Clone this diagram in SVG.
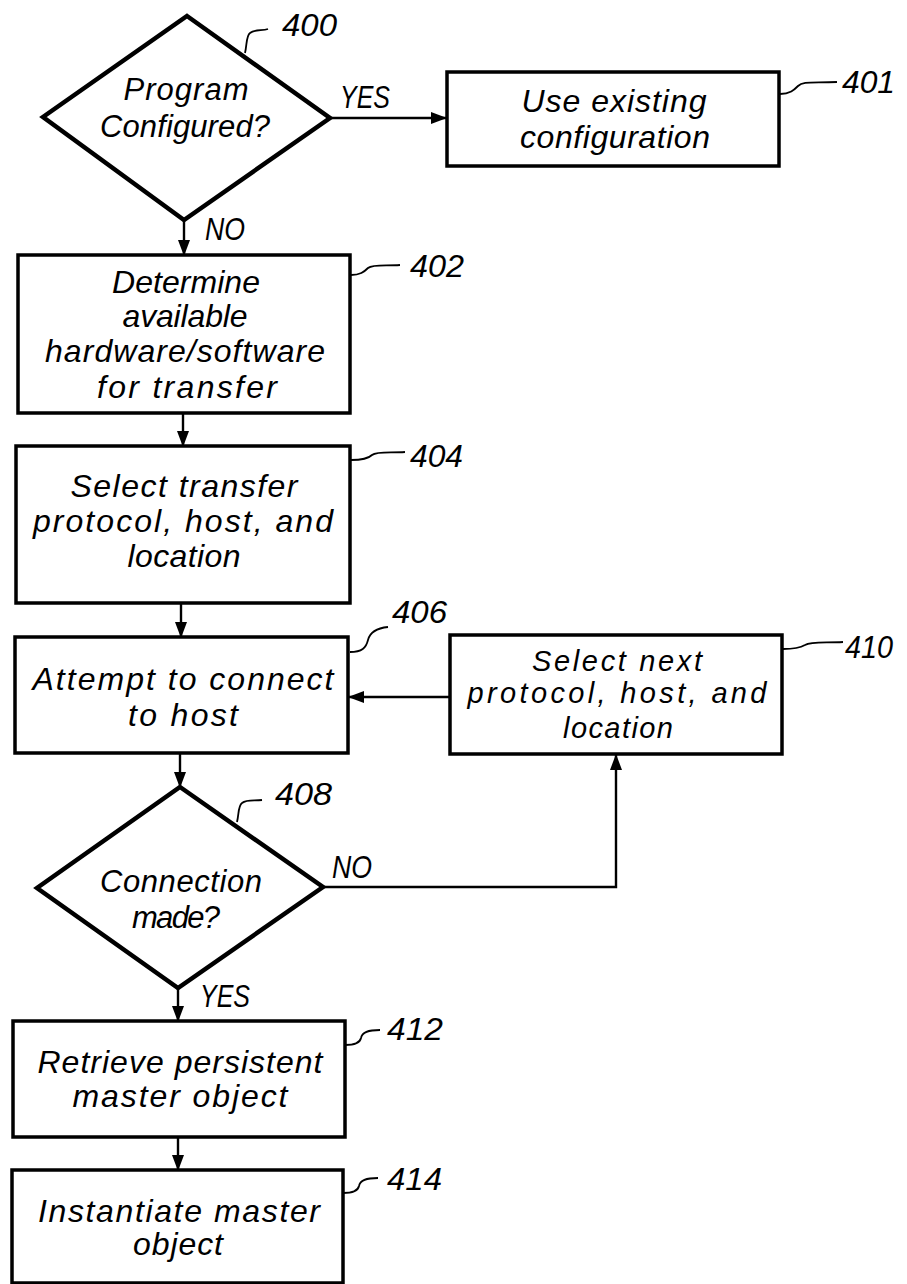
<svg xmlns="http://www.w3.org/2000/svg" width="907" height="1284" viewBox="0 0 907 1284">
<defs>
<style>
.box{fill:#fff;stroke:#000;stroke-width:3.5}
.dia{fill:#fff;stroke:#000;stroke-width:4.5;stroke-linejoin:miter}
.t{font-family:"Liberation Sans",Arial,sans-serif;font-style:italic;font-size:32px;fill:#000;text-anchor:middle}
.td{font-size:31px}
.ts{font-size:29px}
.lbl{font-family:"Liberation Sans",Arial,sans-serif;font-style:italic;font-size:32px;fill:#000}
.yn{font-size:31px}
.lead{fill:none;stroke:#000;stroke-width:1.8}
.con{fill:none;stroke:#000;stroke-width:2.4}
</style>
<marker id="ah" markerWidth="16" markerHeight="14" refX="15" refY="7" orient="auto" markerUnits="userSpaceOnUse">
<path d="M0,1 L16,7 L0,13 Z" fill="#000"/>
</marker>
</defs>
<rect width="907" height="1284" fill="#fff"/>

<g id="connectors">
<path class="con" d="M330,118 L446,118" marker-end="url(#ah)"/>
<path class="con" d="M184,220 L184,255" marker-end="url(#ah)"/>
<path class="con" d="M183,413 L183,446" marker-end="url(#ah)"/>
<path class="con" d="M181,603 L181,637" marker-end="url(#ah)"/>
<path class="con" d="M450,697 L349,697" marker-end="url(#ah)"/>
<path class="con" d="M180,753 L180,787" marker-end="url(#ah)"/>
<path class="con" d="M323,887 L616,887 L616,755" marker-end="url(#ah)"/>
<path class="con" d="M178,988 L178,1021" marker-end="url(#ah)"/>
<path class="con" d="M178,1137 L178,1170" marker-end="url(#ah)"/>
<text class="lbl yn" x="340" y="108" textLength="50" lengthAdjust="spacingAndGlyphs">YES</text>
<text class="lbl yn" x="205" y="240" textLength="40" lengthAdjust="spacingAndGlyphs">NO</text>
<text class="lbl yn" x="332" y="878" textLength="40" lengthAdjust="spacingAndGlyphs">NO</text>
<text class="lbl yn" x="200" y="1007" textLength="50" lengthAdjust="spacingAndGlyphs">YES</text>
</g>

<g id="n400">
<path class="dia" d="M187,16 L330,118 L184,220 L43,117 Z"/>
<text class="t td" x="186" y="100" textLength="125" lengthAdjust="spacing">Program</text>
<text class="t td" x="185" y="137" textLength="170" lengthAdjust="spacing">Configured?</text>
<path class="lead" d="M245,53 C247,45 246,36 250,33 C255,29 262,31 268,29"/>
<text class="lbl" x="282" y="36" textLength="55" lengthAdjust="spacingAndGlyphs">400</text>
</g>

<g id="n401">
<rect class="box" x="447" y="72" width="332" height="94"/>
<text class="t" x="614" y="112" textLength="185" lengthAdjust="spacing">Use existing</text>
<text class="t" x="615" y="148" textLength="190" lengthAdjust="spacing">configuration</text>
<path class="lead" d="M780,94 C790,94 794,90 798,86 C803,81 812,83 837,82"/>
<text class="lbl" x="842" y="93" textLength="53" lengthAdjust="spacingAndGlyphs">401</text>
</g>

<g id="n402">
<rect class="box" x="18" y="255" width="332" height="158"/>
<text class="t" x="186" y="293" textLength="148" lengthAdjust="spacing">Determine</text>
<text class="t" x="185" y="327" textLength="125" lengthAdjust="spacing">available</text>
<text class="t" x="185" y="362" textLength="280" lengthAdjust="spacing">hardware/software</text>
<text class="t" x="187" y="398" textLength="180" lengthAdjust="spacing">for transfer</text>
<path class="lead" d="M351,275 C360,275 364,272 368,268 C373,264 385,266 400,265"/>
<text class="lbl" x="410" y="277" textLength="54" lengthAdjust="spacingAndGlyphs">402</text>
</g>

<g id="n404">
<rect class="box" x="16" y="446" width="334" height="157"/>
<text class="t" x="184" y="497" textLength="227" lengthAdjust="spacing">Select transfer</text>
<text class="t" x="183" y="532" textLength="300" lengthAdjust="spacing">protocol, host, and</text>
<text class="t" x="184" y="567" textLength="113" lengthAdjust="spacing">location</text>
<path class="lead" d="M351,460 C362,460 368,459 372,455 C377,451 390,453 405,452"/>
<text class="lbl" x="410" y="467" textLength="53" lengthAdjust="spacingAndGlyphs">404</text>
</g>

<g id="n406">
<rect class="box" x="15" y="637" width="333" height="116"/>
<text class="t" x="183" y="690" textLength="301" lengthAdjust="spacing">Attempt to connect</text>
<text class="t" x="183" y="726" textLength="110" lengthAdjust="spacing">to host</text>
<path class="lead" d="M350,652 C362,652 366,648 368,640 C370,632 378,628 388,627"/>
<text class="lbl" x="392" y="623" textLength="55" lengthAdjust="spacingAndGlyphs">406</text>
</g>

<g id="n408">
<path class="dia" d="M180,787 L323,887 L178,988 L37,888 Z"/>
<text class="t td" x="181" y="892" textLength="162" lengthAdjust="spacing">Connection</text>
<text class="t td" x="176" y="928" textLength="88" lengthAdjust="spacing">made?</text>
<path class="lead" d="M237,822 C239,814 238,806 242,803 C247,799 254,801 262,800"/>
<text class="lbl" x="275" y="805" textLength="57" lengthAdjust="spacingAndGlyphs">408</text>
</g>

<g id="n410">
<rect class="box" x="450" y="635" width="332" height="119"/>
<text class="t ts" x="617" y="671" textLength="170" lengthAdjust="spacing">Select next</text>
<text class="t ts" x="617" y="703" textLength="299" lengthAdjust="spacing">protocol, host, and</text>
<text class="t ts" x="618" y="738" textLength="110" lengthAdjust="spacing">location</text>
<path class="lead" d="M783,649 C795,649 800,648 805,645 C811,641 825,643 843,642"/>
<text class="lbl" x="845" y="658" textLength="48" lengthAdjust="spacingAndGlyphs">410</text>
</g>

<g id="n412">
<rect class="box" x="13" y="1021" width="332" height="116"/>
<text class="t" x="180" y="1073" textLength="285" lengthAdjust="spacing">Retrieve persistent</text>
<text class="t" x="180" y="1107" textLength="215" lengthAdjust="spacing">master object</text>
<path class="lead" d="M345,1045 C355,1045 360,1043 361,1038 C362,1032 368,1030 380,1030"/>
<text class="lbl" x="387" y="1040" textLength="56" lengthAdjust="spacingAndGlyphs">412</text>
</g>

<g id="n414">
<rect class="box" x="12" y="1170" width="331" height="113"/>
<text class="t" x="179" y="1222" textLength="282" lengthAdjust="spacing">Instantiate master</text>
<text class="t" x="178" y="1255" textLength="90" lengthAdjust="spacing">object</text>
<path class="lead" d="M343,1193 C353,1193 358,1191 359,1186 C360,1180 366,1178 378,1178"/>
<text class="lbl" x="387" y="1190" textLength="55" lengthAdjust="spacingAndGlyphs">414</text>
</g>
</svg>
